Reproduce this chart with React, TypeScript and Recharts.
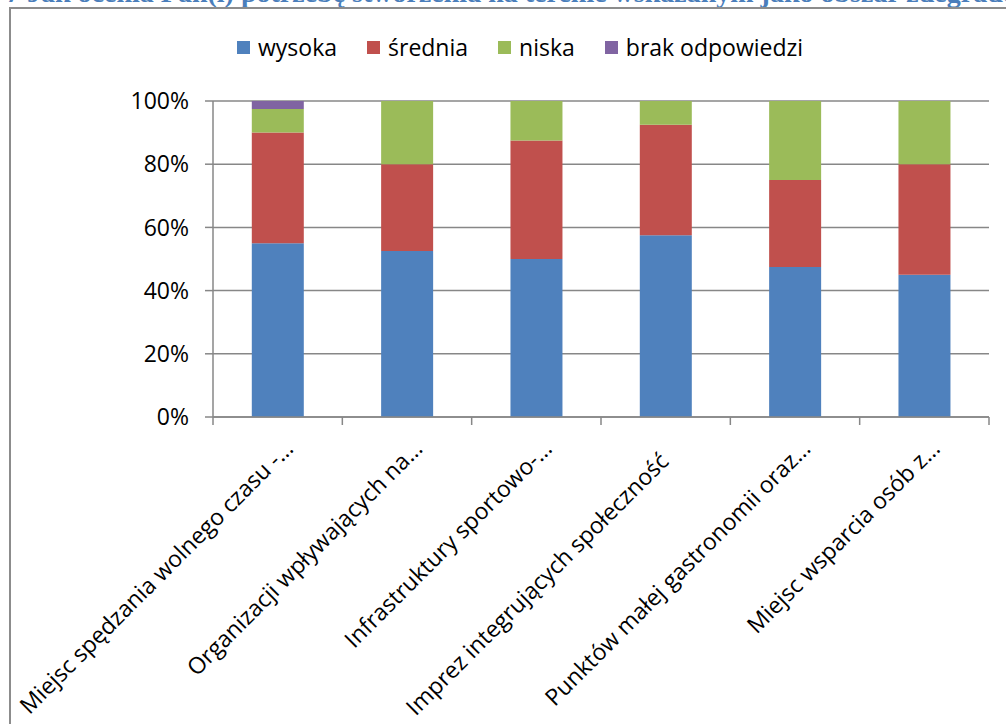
import React from 'react';
import { BarChart, Bar, XAxis, YAxis, CartesianGrid } from 'recharts';

// category labels as shown (Excel truncated them with an ellipsis)
const categories = [
  'Miejsc spędzania wolnego czasu -…',
  'Organizacji wpływających na…',
  'Infrastruktury sportowo-…',
  'Imprez integrujących społeczność\u00a0\u00a0\u00a0',
  'Punktów małej gastronomii oraz…',
  'Miejsc wsparcia osób z…',
];

const wysoka = [55, 52.5, 50, 57.5, 47.5, 45];
const srednia = [35, 27.5, 37.5, 35, 27.5, 35];
const niska = [7.5, 20, 12.5, 7.5, 25, 20];
const brak = [2.5, 0, 0, 0, 0, 0];

const yTicks = [0, 20, 40, 60, 80, 100];

const series = [
  { key: 'wysoka', name: 'wysoka', color: '#4F81BD' },
  { key: 'srednia', name: 'średnia', color: '#C0504D' },
  { key: 'niska', name: 'niska', color: '#9BBB59' },
  { key: 'brak', name: 'brak odpowiedzi', color: '#8064A2' },
];

const data = categories.map((name, i) => ({
  name,
  wysoka: wysoka[i],
  srednia: srednia[i],
  niska: niska[i],
  brak: brak[i],
}));

const FONT = '"Open Sans", "Noto Sans", sans-serif';
const AXIS = '#878787';

const XTick = (props: any) => {
  const { x, y, payload, index } = props;
  const half = payload?.offset || 776 / 12;
  const tx = x + 17;
  const ty = y + 25;
  return (
    <g>
      <line x1={x - half} x2={x - half} y1={y - 8} y2={y} stroke={AXIS} strokeWidth={1.5} />
      {index === categories.length - 1 && (
        <line x1={x + half} x2={x + half} y1={y - 8} y2={y} stroke={AXIS} strokeWidth={1.5} />
      )}
      <text
        x={tx}
        y={ty}
        textAnchor="end"
        transform={`rotate(-45 ${tx} ${ty})`}
        fontSize={23}
        fontFamily={FONT}
        fill="#000"
      >
        {payload.value}
      </text>
    </g>
  );
};

export default function App() {
  return (
    <div
      style={{
        position: 'absolute',
        left: 0,
        top: 0,
        width: 1006,
        height: 724,
        overflow: 'hidden',
        background: '#fff',
      }}
    >
      {/* caption above the chart, cut off by the page edge as in the scan */}
      <div
        style={{
          position: 'absolute',
          left: 6,
          top: -23,
          whiteSpace: 'nowrap',
          fontFamily: '"Liberation Serif", "DejaVu Serif", serif',
          fontWeight: 'bold',
          fontSize: 28,
          lineHeight: '32px',
          color: '#4A7EBB',
        }}
      >
        7 Jak ocenia Pan(i) potrzebę stworzenia na terenie wskazanym jako obszar zdegradowany?
      </div>

      {/* chart frame */}
      <div
        style={{
          position: 'absolute',
          left: 9,
          top: 7,
          width: 1010,
          height: 730,
          borderLeft: '2px solid #8c8c8c',
          borderTop: '2px solid #8c8c8c',
        }}
      />

      <div
        style={{
          position: 'absolute',
          left: 237,
          top: 32,
          display: 'flex',
          alignItems: 'center',
          fontFamily: FONT,
          fontSize: 23,
          lineHeight: '30px',
          color: '#000',
        }}
      >
        {series.map((s) => (
          <div key={s.key} style={{ display: 'flex', alignItems: 'center', marginRight: 30 }}>
            <span style={{ width: 13, height: 13, background: s.color, marginRight: 8 }} />
            <span>{s.name}</span>
          </div>
        ))}
      </div>

      <div style={{ position: 'absolute', left: 0, top: 0 }}>
        <BarChart
          width={1006}
          height={724}
          data={data}
          margin={{ top: 101, right: 17, bottom: 0, left: 133 }}
          barCategoryGap="30%"
        >
          <CartesianGrid vertical={false} stroke={AXIS} strokeWidth={1.5} />
          <XAxis
            dataKey="name"
            height={307}
            interval={0}
            tickSize={8}
            tickMargin={0}
            tickLine={false}
            axisLine={{ stroke: AXIS, strokeWidth: 1.5 }}
            tick={<XTick />}
          />
          <YAxis
            width={80}
            domain={[0, 100]}
            ticks={yTicks}
            tickFormatter={(v: number) => `${v}%`}
            tickSize={8}
            tickMargin={16}
            tickLine={{ stroke: AXIS, strokeWidth: 1.5 }}
            axisLine={{ stroke: AXIS, strokeWidth: 1.5 }}
            tick={{ fontSize: 23, fontFamily: FONT, fill: '#000' }}
          />
          {series.map((s) => (
            <Bar
              key={s.key}
              dataKey={s.key}
              name={s.name}
              stackId="a"
              fill={s.color}
              isAnimationActive={false}
            />
          ))}
        </BarChart>
      </div>
    </div>
  );
}
